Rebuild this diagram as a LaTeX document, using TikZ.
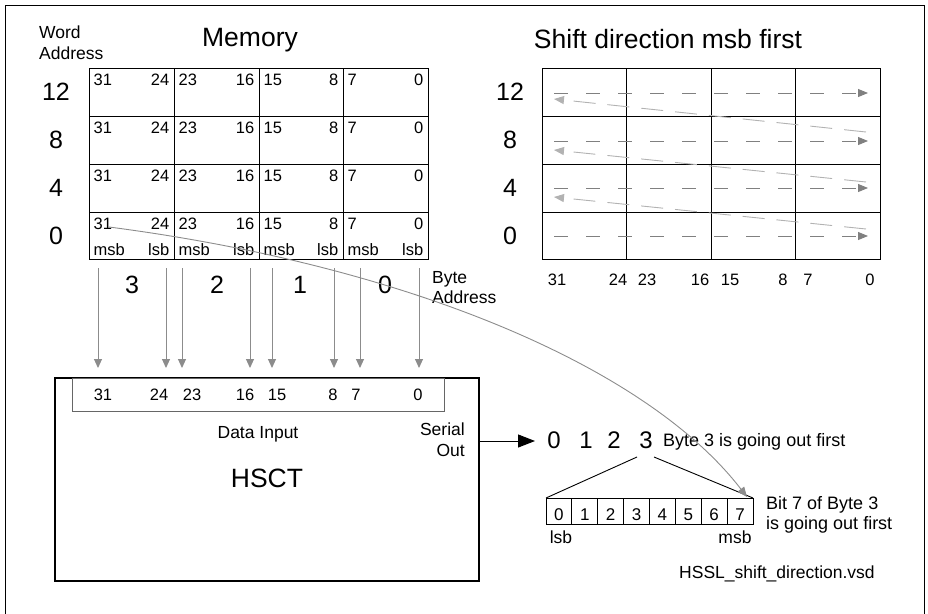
\documentclass[tikz,border=0pt]{standalone}
\usepackage{fontspec}
\setmainfont{Liberation Sans}
\usetikzlibrary{arrows.meta}
\tikzset{
  tsmall/.style={inner sep=0pt, font=\fontsize{17.5}{20}\selectfont},
  tcell/.style={inner sep=0pt, font=\fontsize{16.5}{19}\selectfont},
  tbig/.style={inner sep=0pt, font=\fontsize{25}{30}\selectfont},
  ttitle/.style={inner sep=0pt, font=\fontsize{26.5}{30}\selectfont},
  gridline/.style={draw=black, line width=0.9pt},
  feed/.style={draw=black!45, line width=1pt, -{Triangle[length=9pt,width=8pt]}},
  rowarrow/.style={draw=black!50, line width=1pt, dash pattern=on 14pt off 18pt, -{Triangle[length=10pt,width=8pt]}},
  backarrow/.style={draw=black!30, line width=0.9pt, dash pattern=on 22pt off 12pt, -{Triangle[length=10pt,width=8pt]}},
  curvearrow/.style={draw=black!45, line width=0.9pt, -{Triangle[length=10pt,width=8pt]}},
  outarrow/.style={draw=black, line width=1pt, -{Triangle[length=17pt,width=13pt]}},
}
\begin{document}
\begin{tikzpicture}[x=1pt,y=-1pt]
\useasboundingbox (0,0) rectangle (928,613);
% outer frame
\draw[line width=1pt] (5,620) -- (5,5) -- (924,5) -- (924,620);

% ---------- Memory ----------
\node[tsmall, anchor=base west] (wa1) at (39,38) {Word};
\node[tsmall, anchor=base west] (wa2) at (39,59) {Address};
\node[ttitle, anchor=base] (memt) at (250,46) {Memory};

\draw[gridline] (89,68) rectangle (428,259);
\foreach \y in {116,164,212} \draw[gridline] (89,\y) -- (428,\y);
\foreach \x in {174,259,343} \draw[gridline] (\x,68) -- (\x,259);

\foreach \w/\b [count=\i] in {12/100,8/148,4/196,0/244}
  \node[tbig, anchor=base] (mwa\i) at (56,\b) {\w};

\foreach \b [count=\r] in {85,133,181,229}{
  \foreach \hi/\lo/\xl/\xr [count=\c] in {31/24/89/174,23/16/174/259,15/8/259/343,7/0/343/428}{
    \node[tcell, anchor=base west] (mh\r\c) at (\xl+4.5,\b) {\hi};
    \node[tcell, anchor=base east] (ml\r\c) at (\xr-4.5,\b) {\lo};
  }
}
\foreach \xl/\xr [count=\c] in {89/174,174/259,259/343,343/428}{
  \node[tcell, anchor=base west] (msb\c) at (\xl+4.5,255) {msb};
  \node[tcell, anchor=base east] (lsb\c) at (\xr-4.5,255) {lsb};
}

% byte addresses
\foreach \v/\x [count=\i] in {3/132,2/217,1/300,0/385}
  \node[tbig, anchor=base] (ba\i) at (\x,293) {\v};
\node[tsmall, anchor=base west] (bya1) at (432,283) {Byte};
\node[tsmall, anchor=base west] (bya2) at (432,303) {Address};

% ---------- HSCT ----------
\draw[line width=2.6pt] (55,378) rectangle (479,581);
\draw[draw=black!60, line width=1pt] (72,378) rectangle (444,411);
\foreach \v/\x [count=\i] in {31/103,24/159,23/192,16/245,15/277,8/333,7/356,0/418}
  \node[tcell, anchor=base] (reg\i) at (\x,400) {\v};
\foreach \x [count=\i] in {98,166,182,250,272,334,360,419}{
  \coordinate (ft\i) at (\x,268);
  \coordinate (fb\i) at (\x,368);
  \draw[feed] (ft\i) -- (fb\i);
}
\node[tsmall, anchor=base] (din) at (258,438) {Data Input};
\node[tsmall, anchor=base east] (so1) at (465,435) {Serial};
\node[tsmall, anchor=base east] (so2) at (465,456) {Out};
\node[ttitle, anchor=base] (hsct) at (267,487) {HSCT};

% serial out
\coordinate (sostart) at (479,441);
\coordinate (soend) at (535,441);
\draw[outarrow] (sostart) -- (soend);
\foreach \v/\x [count=\i] in {0/554,1/586,2/614,3/646}
  \node[font=\fontsize{24}{28}\selectfont, inner sep=0pt, anchor=base] (sq\i) at (\x,448) {\v};
\node[font=\fontsize{18}{21}\selectfont, inner sep=0pt, anchor=base west] (b3) at (663,446) {Byte 3 is going out first};

% bit box
\draw[line width=0.9pt] (546,498) rectangle (753,524);
\foreach \i in {1,...,7} \draw[line width=0.9pt] (546+25.875*\i,498) -- (546+25.875*\i,524);
\foreach \i in {0,...,7}
  \node[font=\fontsize{17}{20}\selectfont, inner sep=0pt, anchor=base] (bit\i) at (546+25.875*\i+12.94,520) {\i};
\coordinate (fanl) at (637,457);
\coordinate (fanr) at (654,457);
\coordinate (boxl) at (546,498);
\coordinate (boxr) at (753,498);
\draw[line width=0.9pt] (fanl) -- (boxl);
\draw[line width=0.9pt] (fanr) -- (boxr);
\node[tsmall, anchor=base] (blsb) at (561,543) {lsb};
\node[tsmall, anchor=base] (bmsb) at (735,543) {msb};
\node[font=\fontsize{18}{21}\selectfont, inner sep=0pt, anchor=base west] (b7a) at (766,509) {Bit 7 of Byte 3};
\node[font=\fontsize{18}{21}\selectfont, inner sep=0pt, anchor=base west] (b7b) at (766,529) {is going out first};
\node[tsmall, anchor=base west] (fname) at (679,578) {HSSL\_shift\_direction.vsd};

% curved arrow from bit 31 to bit 7 of byte 3
\coordinate (cstart) at (109,227);
\coordinate (cend) at (747,497);
\draw[curvearrow] (cstart) .. controls (409,266) and (647,367) .. (cend);

% ---------- Shift direction ----------
\node[ttitle, anchor=base] (sdt) at (668,48) {Shift direction msb first};
\draw[gridline] (542,68) rectangle (880,259);
\foreach \y in {116,164,212} \draw[gridline] (542,\y) -- (880,\y);
\foreach \x in {626,711,795} \draw[gridline] (\x,68) -- (\x,259);
\foreach \w/\b [count=\i] in {12/100,8/148,4/196,0/244}
  \node[tbig, anchor=base] (swa\i) at (510,\b) {\w};
\foreach \v/\x [count=\i] in {31/557,24/618,23/647,16/700,15/730,8/783,7/808,0/870}
  \node[tcell, anchor=base] (sbl\i) at (\x,285) {\v};
\foreach \y [count=\i] in {93,141,188,236}{
  \coordinate (rl\i) at (554,\y);
  \coordinate (rr\i) at (868,\y);
  \draw[rowarrow] (rl\i) -- (rr\i);
}
\foreach \ya/\yb [count=\i] in {132/99,182/150,229/197}{
  \coordinate (dr\i) at (866,\ya);
  \coordinate (dl\i) at (554,\yb);
  \draw[backarrow] (dr\i) -- (dl\i);
}
\end{tikzpicture}
\end{document}
